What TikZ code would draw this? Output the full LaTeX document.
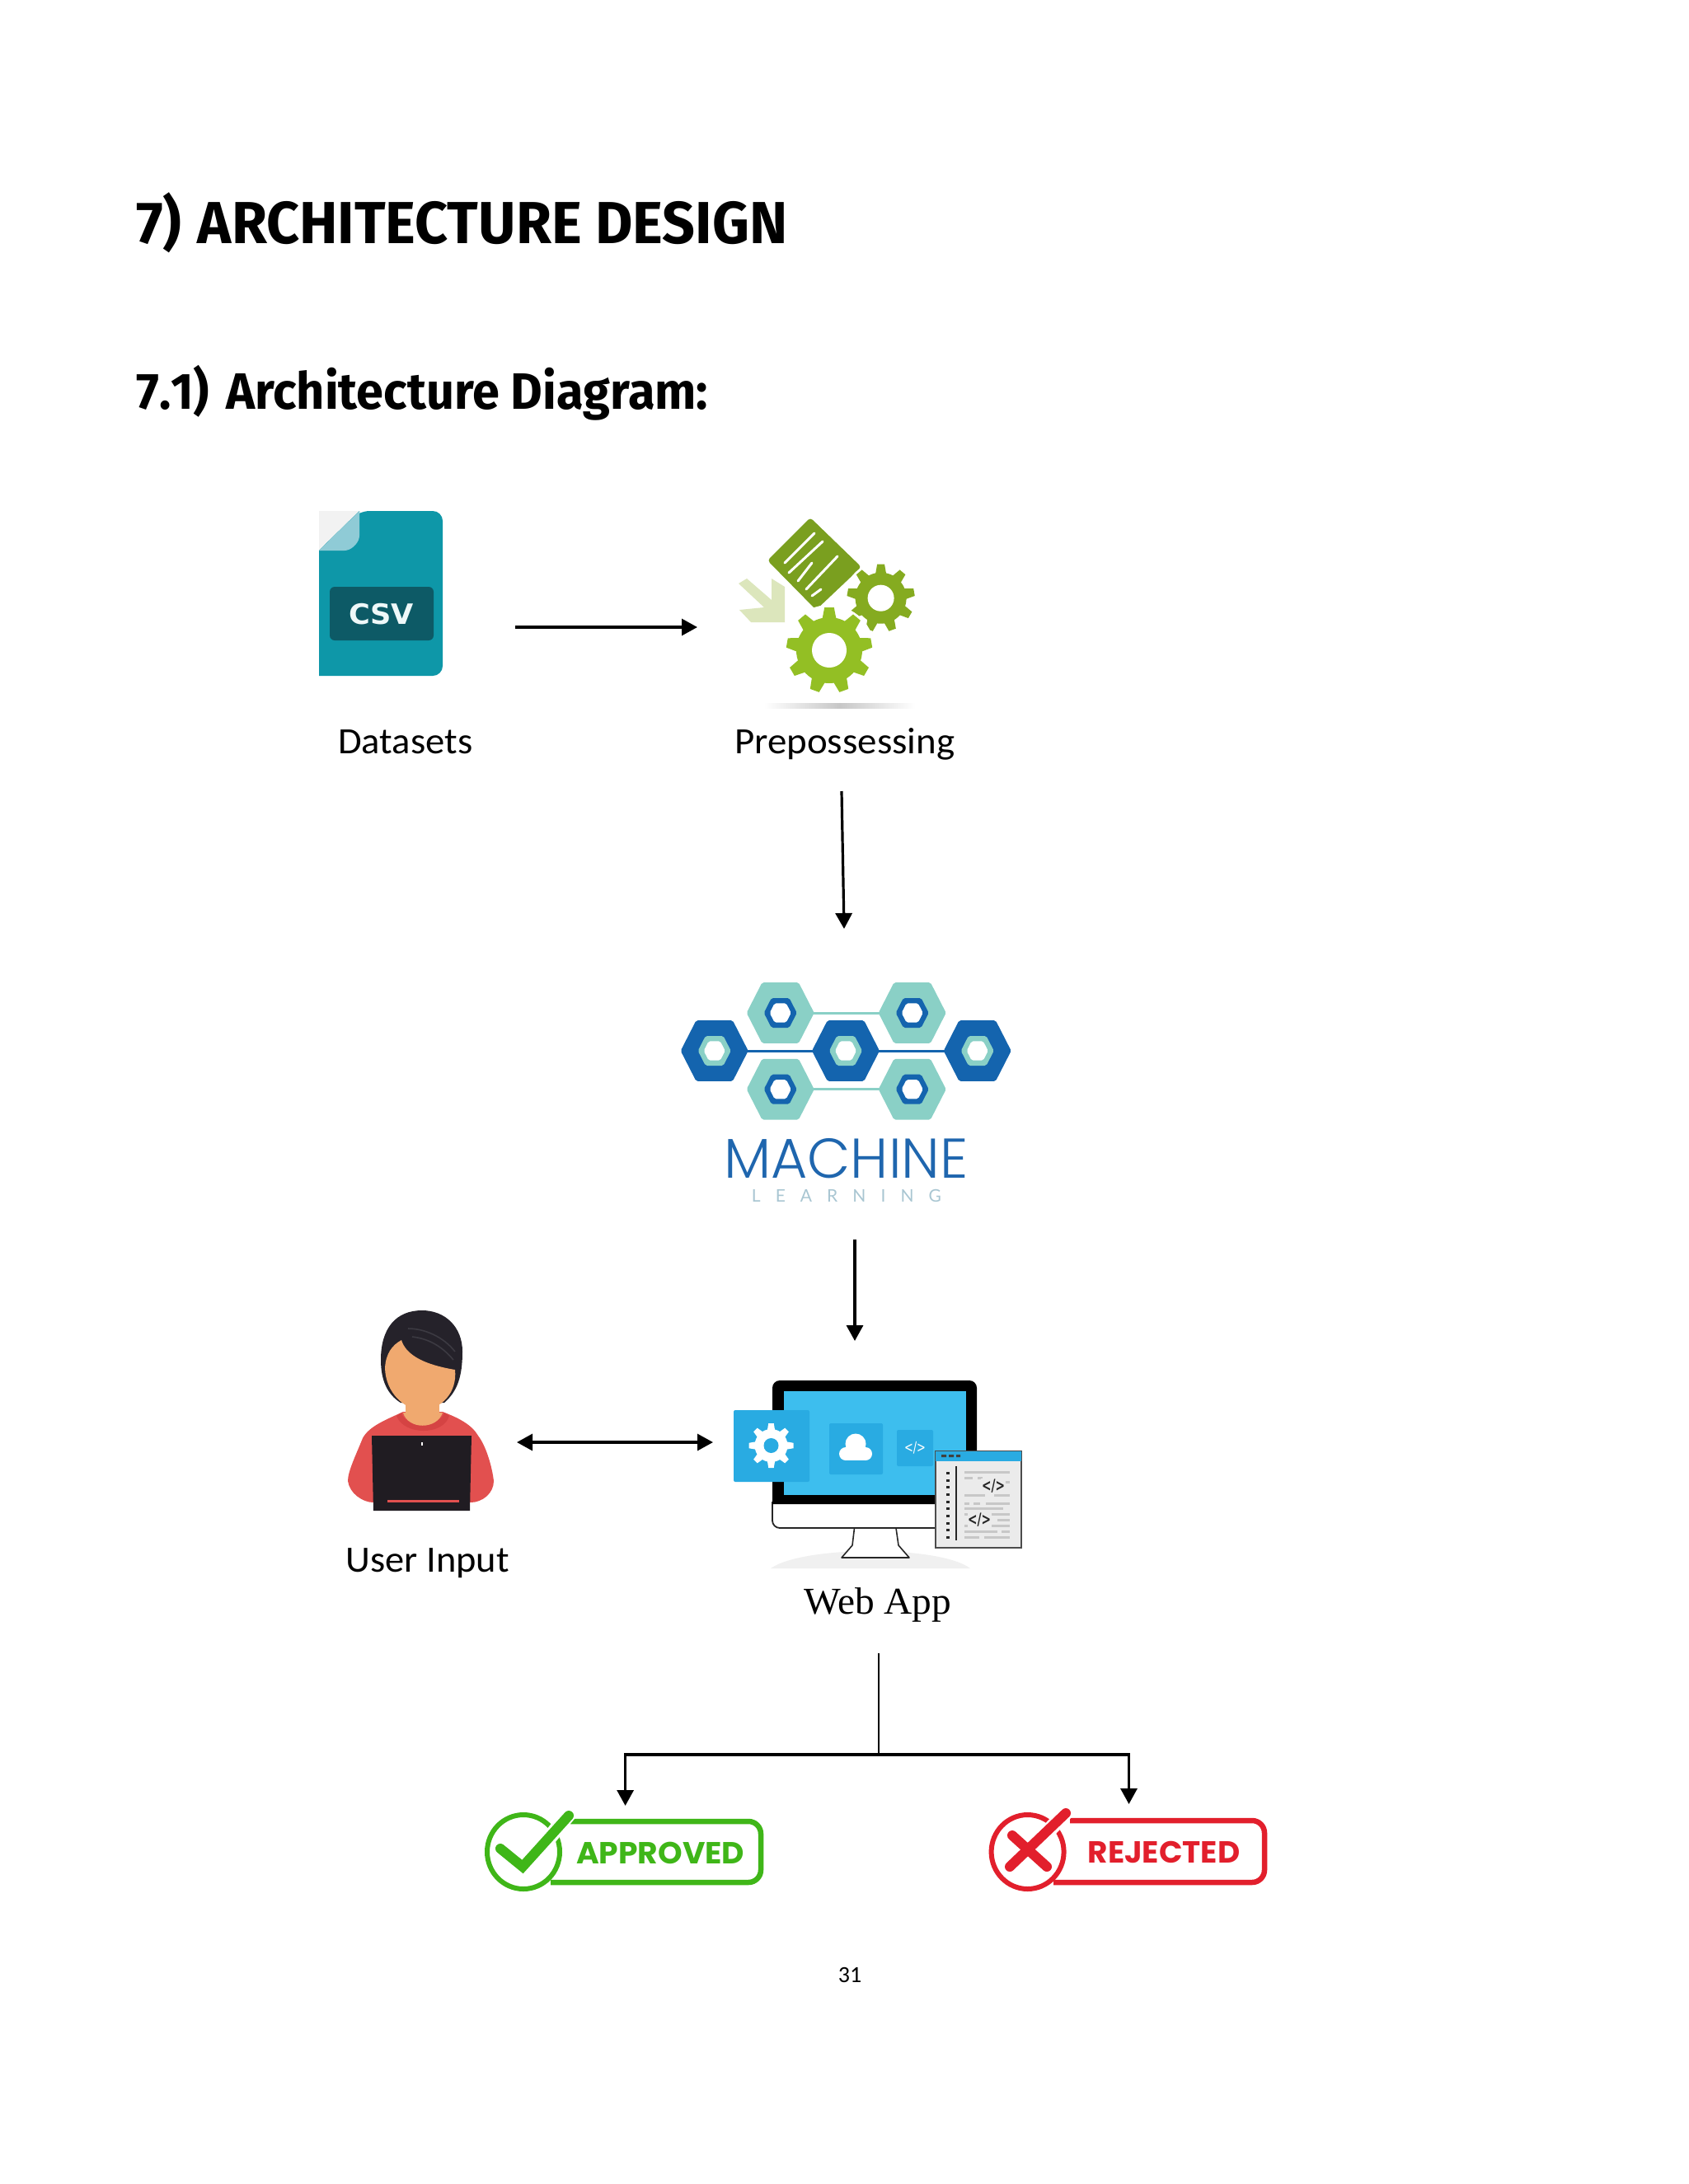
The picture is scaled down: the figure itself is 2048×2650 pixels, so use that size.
\documentclass[tikz,border=0pt]{standalone}
\usepackage{graphicx}
\usepackage{fontspec}
\usetikzlibrary{arrows.meta,calc}
\setmainfont{Carlito}
\newfontfamily\headfont{Fira Sans}
\newfontfamily\timesfont{Liberation Serif}
\newfontfamily\latofont{Lato}
\newfontfamily\popfont{Poppins}
\newfontfamily\poplight{Poppins Light}
\newfontfamily\djfont{DejaVu Sans}
\definecolor{csvteal}{HTML}{0E97A8}
\definecolor{csvdark}{HTML}{0D5A66}
\definecolor{csvfold}{HTML}{8FCBD6}
\definecolor{gearA}{HTML}{93BF24}
\definecolor{gearB}{HTML}{85AB20}
\definecolor{docgreen}{HTML}{7A9F1F}
\definecolor{palegreen}{HTML}{DCE6BC}
\definecolor{hexdark}{HTML}{1464AE}
\definecolor{hexlight}{HTML}{8AD0C6}
\definecolor{mltext}{HTML}{1F66AE}
\definecolor{mlsoft}{HTML}{A9C6D2}
\definecolor{hairc}{HTML}{25222A}
\definecolor{hairl}{HTML}{3C3A42}
\definecolor{skinc}{HTML}{F0A96F}
\definecolor{shirtc}{HTML}{E2504F}
\definecolor{collarc}{HTML}{D54343}
\definecolor{lapc}{HTML}{201C22}
\definecolor{screenc}{HTML}{3DBEEE}
\definecolor{cardc}{HTML}{29ABE2}
\definecolor{okgreen}{HTML}{3FB618}
\definecolor{nored}{HTML}{E21F2C}
\newcommand{\fitw}[2]{\resizebox{#1pt}{\height}{#2}}
\newcommand{\hexa}[4]{\fill[#4,rounded corners=2pt] ({#1+#3},#2) -- ({#1+.54*#3},{#2-.9*#3}) -- ({#1-.54*#3},{#2-.9*#3}) -- ({#1-#3},#2) -- ({#1-.54*#3},{#2+.9*#3}) -- ({#1+.54*#3},{#2+.9*#3}) -- cycle;}
\newcommand{\hexnode}[5]{\hexa{#1}{#2}{41}{#3}\hexa{#1}{#2}{20}{#4}\hexa{#1}{#2}{13}{#5}}
\newcommand{\gearicon}[8]{%
 \begin{scope}[shift={(#1,#2)}]
 \pgfmathsetmacro{\gb}{#4*sin(180/#5)*0.62}
 \pgfmathsetmacro{\gt}{\gb*0.68}
 \foreach \gi in {1,...,#5}{\fill[#7,rotate={360/#5*\gi+90}] ({#4-2},-\gb) -- (#3,-\gt) -- (#3,\gt) -- ({#4-2},\gb) -- cycle;}
 \fill[#7] (0,0) circle (#4);
 \fill[#8] (0,0) circle (#6);
 \end{scope}}
\tikzset{
 txt/.style={inner sep=0pt,anchor=base west},
 lbl/.style={txt,font=\fontsize{45}{50}\selectfont,text=black},
 flow/.style={line width=3.2pt,draw=black,-{Triangle[length=19pt,width=20pt]}},
 flowboth/.style={line width=3.2pt,draw=black,{Triangle[length=19pt,width=20pt]}-{Triangle[length=19pt,width=20pt]}},
 plain/.style={line width=2.2pt,draw=black},
 trunk/.style={line width=3.8pt,draw=black,line cap=rect},
 codeline/.style={line width=3pt,draw=black!22},
}
\begin{document}
\begin{tikzpicture}[x=1pt,y=-1pt]
\useasboundingbox (0,0) rectangle (2048,2650);
\fill[white] (0,0) rectangle (2048,2650);
% headings
\node[txt,font=\headfont\bfseries\fontsize{72}{80}\selectfont] (h1) at (165,295) {\fitw{790}{7)\hspace{3pt} ARCHITECTURE DESIGN}};
\node[txt,font=\headfont\bfseries\fontsize{62}{70}\selectfont] (h2) at (165,496) {\fitw{694}{{\addfontfeature{Kerning=Off}7.1)}\hspace{6pt} Architecture Diagram:}};
% CSV icon
\fill[black!5] (387,620) -- (436,620) -- (387,668) -- cycle;
\fill[csvteal,rounded corners=12pt] (387,820) -- (537,820) -- (537,620) -- (436,620) -- (387,668) [sharp corners] -- cycle;
\fill[csvteal] (387,668) -- (436,620) -- (436,700) -- (387,700) -- cycle;
\fill[csvfold,rounded corners=6pt] (387,668) -- (424,668) -- (436,656) [sharp corners] -- (436,620) -- cycle;
\fill[csvdark,rounded corners=6pt] (400,712) rectangle (526,777);
\node[inner sep=0pt,anchor=base,font=\djfont\bfseries\fontsize{34}{36}\selectfont,text=white!93!csvteal] (csvtxt) at (462.5,757.5) {\fitw{79}{CSV}};
\node[lbl] (datasets) at (410,914) {\fitw{163}{Datasets}};
% preprocessing icon
\fill[palegreen] (906,702) -- (896,708) -- (927,737) -- (897,740) -- (911,755) -- (952,755) -- (952,712) -- (936,702) -- (936,728) -- cycle;
\fill[docgreen,rounded corners=4pt] (983,628) -- (931,680) -- (990,740) -- (1045,688) -- cycle;
\foreach \xa/\ya/\xb/\yb in {988/647/952/683,998/657/957/695,985/683/968/705,1016/675/978/715,996/715/985/723}
  \draw[white,line width=3pt,line cap=round] (\xa,\ya) -- (\xb,\yb);
\fill[white] (1068.6,725.7) circle (44);
\gearicon{1068.6}{725.7}{41}{31}{9}{16}{gearB}{white}
\fill[white] (1006,789) circle (55);
\gearicon{1006}{789}{52}{40}{9}{21}{gearA}{white}
\shade[left color=white,right color=white,middle color=black!22] (927,853) rectangle (1110,859);
\node[lbl] (prep) at (891,914) {\fitw{267}{Prepossessing}};
% ML logo
\draw[hexlight,line width=3pt] (946.7,1229) -- (1106.7,1229);
\draw[hexlight,line width=3pt] (946.7,1321.7) -- (1106.7,1321.7);
\draw[hexdark,line width=3pt] (866.7,1275) -- (1185.7,1275);
\hexnode{946.7}{1229}{hexlight}{hexdark}{white}
\hexnode{1106.7}{1229}{hexlight}{hexdark}{white}
\hexnode{946.7}{1321.7}{hexlight}{hexdark}{white}
\hexnode{1106.7}{1321.7}{hexlight}{hexdark}{white}
\hexnode{866.7}{1275}{hexdark}{hexlight}{white}
\hexnode{1026}{1275}{hexdark}{hexlight}{white}
\hexnode{1185.7}{1275}{hexdark}{hexlight}{white}
\node[txt,font=\poplight\fontsize{68}{72}\selectfont,text=mltext] (machine) at (878,1429) {\fitw{296}{MACHINE}};
\node[txt,font=\latofont\fontsize{21}{24}\selectfont,text=mlsoft] (learning) at (911.7,1458) {\makebox[230pt][s]{L\hfill E\hfill A\hfill R\hfill N\hfill I\hfill N\hfill G}};
% person
\fill[shirtc] (489,1713) .. controls (470,1722) and (448,1730) .. (440,1745) .. controls (432,1765) and (422,1785) .. (422,1797) .. controls (424,1812) and (440,1823) .. (453,1823) -- (571,1823) .. controls (585,1823) and (599,1812) .. (599,1797) .. controls (597,1780) and (590,1755) .. (580,1742) .. controls (572,1728) and (555,1720) .. (537,1713) -- cycle;
\fill[collarc] (487,1714) .. controls (490,1732) and (534,1732) .. (539,1714) -- (545,1718) .. controls (538,1742) and (490,1742) .. (481,1718) -- cycle;
\fill[skinc] (492,1695) rectangle (533,1718);
\fill[skinc] (489,1714) .. controls (495,1735) and (530,1735) .. (537,1714) -- cycle;
\fill[hairc] (512,1590) .. controls (480,1590) and (462,1612) .. (462,1650) .. controls (462,1675) and (470,1692) .. (486,1702) -- (539,1702) .. controls (555,1688) and (561,1670) .. (561,1640) .. controls (561,1610) and (540,1590) .. (512,1590) -- cycle;
\draw[hairl,line width=1.6pt] (495,1612) .. controls (515,1612) and (538,1622) .. (552,1640);
\draw[hairl,line width=1.6pt] (500,1622) .. controls (518,1624) and (535,1632) .. (550,1650);
\fill[skinc] (467,1660) .. controls (468,1642) and (476,1632) .. (487,1626) .. controls (492,1642) and (510,1655) .. (552,1662) .. controls (555,1690) and (535,1710) .. (512,1711) .. controls (490,1710) and (468,1690) .. (467,1660) -- cycle;
\fill[lapc] (451,1742) -- (572,1742) -- (570,1833) -- (453,1833) -- cycle;
\fill[shirtc] (470,1819.5) rectangle (557,1822.5);
\fill[white] (511,1750) rectangle (513,1754);
\node[lbl] (userinput) at (419.5,1907) {\fitw{198}{User Input}};
% web app icon
\fill[black!6] (935,1903) .. controls (975,1875) and (1140,1875) .. (1177,1903) -- cycle;
\draw[black!85,line width=1.6pt,fill=white,line join=round] (1036.5,1854) -- (1034,1875) -- (1021,1890) -- (1103,1890) -- (1090,1875) -- (1087,1854);
\draw[black!85,line width=1.8pt,fill=white,rounded corners=9pt] (937,1822) -- (937,1854) -- (1185,1854) -- (1185,1822);
\fill[black] (937,1825) [rounded corners=9pt] -- (937,1675) -- (1185,1675) [sharp corners] -- (1185,1825) -- cycle;
\fill[screenc] (951,1688) rectangle (1172,1814);
\fill[cardc,rounded corners=2pt] (890,1711) rectangle (982,1798);
\gearicon{935.5}{1754}{27}{20}{8}{9}{white}{cardc}
\fill[cardc,rounded corners=2pt] (1006,1727) rectangle (1071,1789);
\fill[white] (1038,1752) circle (12.5);
\fill[white] (1026,1764) circle (8);
\fill[white] (1050,1764) circle (8);
\fill[white] (1026,1760) rectangle (1050,1772);
\fill[cardc,rounded corners=2pt] (1088,1735) rectangle (1132,1779);
\node[inner sep=0pt,font=\djfont\fontsize{18}{20}\selectfont,text=white] (codecard) at (1110,1757) {\fitw{26}{</>}};
\draw[black!70,line width=1.4pt,fill=black!8] (1135,1761) rectangle (1239,1878);
\fill[cardc] (1135,1761) rectangle (1239,1773);
\fill[black!75] (1142,1765) rectangle (1148,1768) (1151,1765) rectangle (1157,1768) (1160,1765) rectangle (1165,1768);
\draw[black!85,line width=2pt] (1160,1779) -- (1160,1869);
\foreach \dy in {1786,1795,1803,1812,1821,1829,1838,1847,1855,1864}
  \fill[black!85] (1148,\dy) rectangle (1152,{\dy+3});
\foreach \xa/\xb/\ya in {1170/1225/1786,1170/1180/1793,1186/1192/1793,1197/1225/1798,1170/1195/1814,1206/1225/1814,1170/1176/1824,1181/1189/1824,1196/1225/1824,1170/1217/1830,1170/1225/1837,1210/1225/1844,1170/1225/1851,1170/1210/1858,1215/1225/1858,1170/1188/1865,1194/1225/1865}
  \draw[codeline] (\xa,\ya) -- (\xb,\ya);
\fill[black!8] (1190,1794) rectangle (1220,1812);
\fill[black!8] (1174,1834) rectangle (1203,1854);
\node[inner sep=0pt,font=\djfont\bfseries\fontsize{20}{22}\selectfont,text=black!85] (code1) at (1205,1803) {\fitw{28}{</>}};
\node[inner sep=0pt,font=\djfont\bfseries\fontsize{20}{22}\selectfont,text=black!85] (code2) at (1188,1844) {\fitw{28}{</>}};
\node[txt,font=\timesfont\fontsize{46}{50}\selectfont] (webapp) at (975,1958) {\fitw{179}{Web App}};
% approved badge
\draw[okgreen,line width=6.5pt,rounded corners=15pt] (692,2210) -- (923,2210) -- (923,2284) -- (668,2284);
\draw[okgreen,line width=6pt] (635,2247) ellipse (44 and 45);
\draw[white,line width=18pt] (640,2262) -- (691,2200);
\draw[okgreen,line width=12pt,line cap=round,line join=miter] (607,2243) -- (634,2265) -- (690,2203);
\node[txt,font=\popfont\bfseries\fontsize{37}{40}\selectfont,text=okgreen] (approved) at (699,2261) {\fitw{204}{APPROVED}};
% rejected badge
\draw[nored,line width=6.5pt,rounded corners=15pt] (1298,2209) -- (1534,2209) -- (1534,2284) -- (1278,2284);
\draw[nored,line width=6pt] (1246.6,2247) ellipse (44 and 45);
\draw[white,line width=18pt] (1262,2232) -- (1297,2195);
\draw[nored,line width=12pt,line cap=round] (1228,2227) -- (1270,2265);
\draw[nored,line width=12pt,line cap=round] (1225,2265) -- (1293,2200);
\node[txt,font=\popfont\bfseries\fontsize{37}{40}\selectfont,text=nored] (rejected) at (1319.5,2260) {\fitw{184.5}{REJECTED}};
% page number
\node[inner sep=0pt,font=\fontsize{28}{30}\selectfont] (pageno) at (1031,2396) {31};
% connector end points
\coordinate (a1s) at (625,761);
\coordinate (a1e) at (846,761);
\coordinate (a2s) at (1021,960);
\coordinate (a2e) at (1024,1127);
\coordinate (a3s) at (1037,1504);
\coordinate (a3e) at (1037,1627);
\coordinate (a4s) at (627,1750);
\coordinate (a4e) at (865,1750);
\coordinate (b0) at (1065.7,2006);
\coordinate (bj) at (1065.7,2129);
\coordinate (bl) at (758.6,2191);
\coordinate (br) at (1369.5,2189);
\draw[flow] (a1s) -- (a1e);
\draw[flow] (a2s) -- (a2e);
\draw[flow] (a3s) -- (a3e);
\draw[flowboth] (a4s) -- (a4e);
\draw[plain] (b0) -- (bj);
\draw[flow] (bj) -| (bl);
\draw[flow] (bj) -| (br);
\draw[trunk] (bl |- bj) -- (br |- bj);
\end{tikzpicture}
\end{document}
